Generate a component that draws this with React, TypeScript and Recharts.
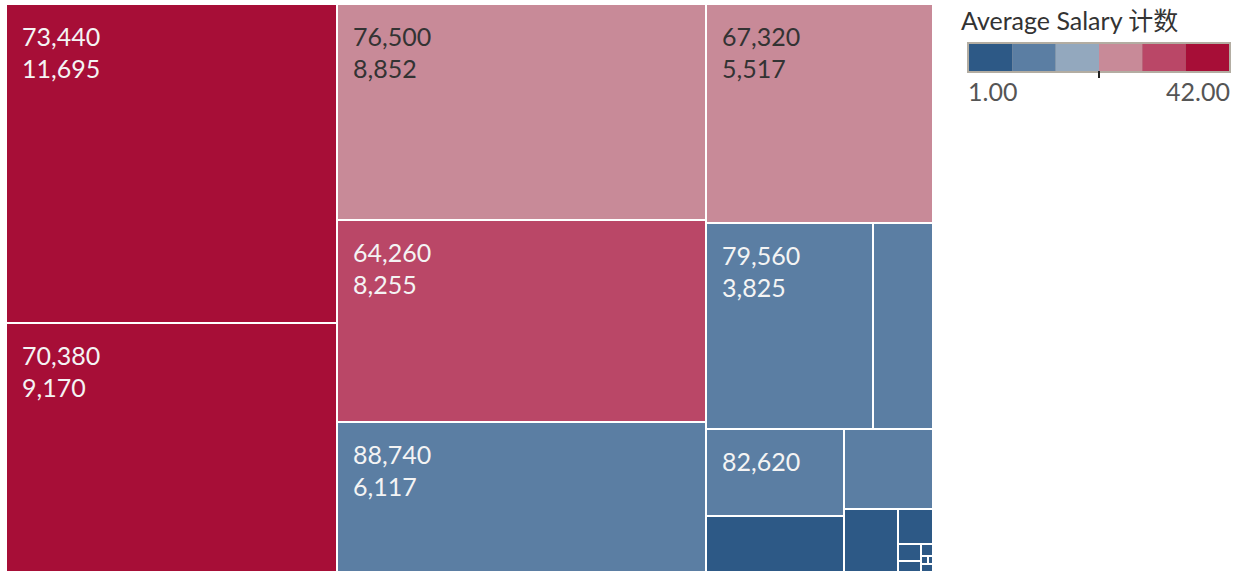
import React from 'react';
import { Treemap } from 'recharts';

// size = number shown on the second line, salary = first line, count = colour
const sizes = [11695, 9170, 8852, 8255, 6117, 5517, 3825, 1364, 1326, 863, 787, 374, 137, 43, 27, 16, 6, 4, 3];
const salaries: (number | null)[] = [73440, 70380, 76500, 64260, 88740, 67320, 79560, null, 82620, null, null, null, null, null, null, null, null, null, null];
const counts = [42, 38, 24, 30, 10, 23, 9, 12, 8, 4, 9, 3, 2, 1, 1, 1, 1, 1, 1];

const COLOR_MIN = 1;
const COLOR_MAX = 42;
const PALETTE = ['#2d5986', '#5b7ea3', '#93a8be', '#c88a98', '#ba4767', '#a70e37'];
const DARK_TEXT = ['#c88a98', '#93a8be'];

const FONT = 'Lato, "Noto Sans CJK SC", sans-serif';

const binColor = (c: number) => {
  const t = (c - COLOR_MIN) / (COLOR_MAX - COLOR_MIN);
  const i = Math.min(PALETTE.length - 1, Math.floor(t * PALETTE.length));
  return PALETTE[i];
};

const data = sizes.map((s, i) => ({
  name: `cell-${i}`,
  size: s,
  salary: salaries[i],
  count: counts[i],
}));

const fmt = (v: number) => v.toLocaleString('en-US');

function Cell(props: any) {
  const { x, y, width, height, depth } = props;
  if (depth !== 1) return <g />;
  const src = props.payload && props.payload.count !== undefined ? props.payload : props;
  const fill = binColor(src.count);
  const textColor = DARK_TEXT.includes(fill) ? '#333333' : '#f4f4f4';
  const showSalary = src.salary != null && width > 100 && height > 60;
  const showSize = showSalary && height > 100;
  return (
    <g>
      <rect x={x + 1} y={y + 1} width={Math.max(0, width - 2)} height={Math.max(0, height - 2)} fill={fill} stroke="none" />
      {showSalary && (
        <text x={x + 16} y={y + 42} fill={textColor} fontSize={25} fontFamily={FONT} stroke="none">
          {fmt(src.salary)}
        </text>
      )}
      {showSize && (
        <text x={x + 16} y={y + 74} fill={textColor} fontSize={25} fontFamily={FONT} stroke="none">
          {fmt(src.size)}
        </text>
      )}
    </g>
  );
}

function ColorLegend() {
  const x0 = 968;
  const w = 262;
  const seg = w / PALETTE.length;
  return (
    <svg width={1234} height={130} style={{ position: 'absolute', left: 0, top: 0, pointerEvents: 'none' }}>
      <text x={961} y={30} fontSize={25} fontFamily={FONT} fill="#333333">
        Average Salary 计数
      </text>
      <rect x={x0 - 1} y={42} width={w + 2} height={31} fill="#b3ada2" />
      {PALETTE.map((c, i) => (
        <rect key={c} x={x0 + 1 + i * ((w - 2) / PALETTE.length)} y={44} width={(w - 2) / PALETTE.length} height={27} fill={c} />
      ))}
      <rect x={x0 + seg * 3 - 1} y={71} width={2} height={7} fill="#222222" />
      <text x={968} y={101} fontSize={25} fontFamily={FONT} fill="#555555">
        1.00
      </text>
      <text x={1230} y={101} fontSize={25} fontFamily={FONT} fill="#555555" textAnchor="end">
        42.00
      </text>
    </svg>
  );
}

export default function App() {
  return (
    <div style={{ position: 'absolute', left: 0, top: 0, width: 1234, height: 571, background: '#ffffff', overflow: 'hidden' }}>
      <div style={{ position: 'absolute', left: 6, top: 4 }}>
        <Treemap
          width={927}
          height={568}
          data={data}
          dataKey="size"
          nameKey="name"
          stroke="none"
          content={<Cell />}
          isAnimationActive={false}
        />
      </div>
      <ColorLegend />
    </div>
  );
}
